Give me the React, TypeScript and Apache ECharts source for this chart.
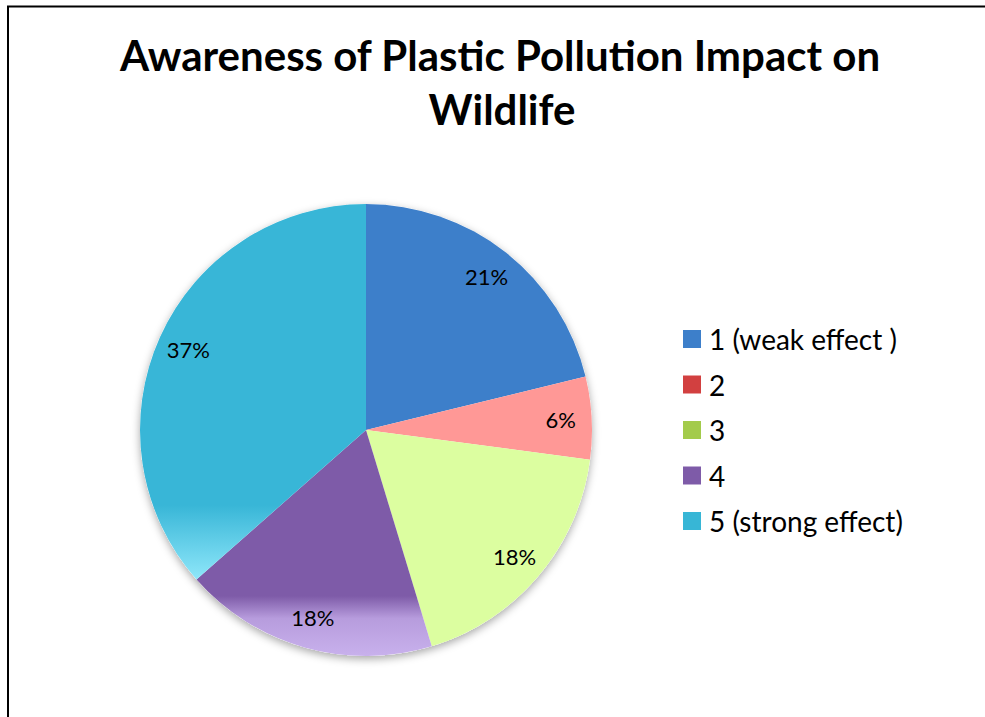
import React, { useEffect, useRef } from "react";
import * as echarts from "echarts";

const titleLines = ["Awareness of Plastic Pollution Impact on", "Wildlife"];
const categories = ["1 (weak effect )", "2", "3", "4", "5 (strong effect)"];
const shares = [21.2, 5.9, 18.2, 18.2, 36.5];
const sliceColors = ["#3D7FCA", "#FF9896", "#DCFEA0", "#7E5BA8", "#38B6D7"];
const legendColors = ["#3D7FCA", "#D24040", "#A3CB4B", "#7E5BA8", "#37B6D6"];

const FONT = "Lato, 'Open Sans', sans-serif";

export default function App() {
  const ref = useRef<HTMLDivElement>(null);

  useEffect(() => {
    if (!ref.current) return;
    const chart = echarts.init(ref.current, undefined, { renderer: "svg" });

    const fills: any[] = sliceColors.slice();
    fills[3] = new echarts.graphic.LinearGradient(
      0, 596, 0, 660,
      [
        { offset: 0, color: "#7E5BA8" },
        { offset: 0.35, color: "#B79CDD" },
        { offset: 1, color: "#CAB3EE" },
      ],
      true
    );
    fills[4] = new echarts.graphic.LinearGradient(
      0, 505, 0, 580,
      [
        { offset: 0, color: "#38B6D7" },
        { offset: 1, color: "#8FE7FA" },
      ],
      true
    );

    const center = [366, 430];
    const R = 226;

    chart.setOption({
      animation: false,
      backgroundColor: "#ffffff",
      legend: {
        orient: "vertical",
        left: 678,
        top: 320,
        itemWidth: 18,
        itemHeight: 18,
        itemGap: 17.5,
        icon: "rect",
        selectedMode: false,
        textStyle: {
          fontFamily: FONT,
          fontSize: 28,
          lineHeight: 28,
          color: "#000",
          padding: [0, 0, 0, 3],
        },
        data: categories.map((name, i) => ({
          name,
          itemStyle: { color: legendColors[i] },
        })),
      },
      graphic: [
        {
          type: "rect",
          shape: { x: 8, y: 6.5, width: 1200, height: 1000 },
          style: { fill: "none", stroke: "#000", lineWidth: 2 },
          silent: true,
        },
        {
          type: "text",
          x: 500,
          y: 55,
          style: {
            text: titleLines[0],
            textAlign: "center",
            textVerticalAlign: "middle",
            fontFamily: FONT,
            fontWeight: "bold",
            fontSize: 42,
            fill: "#000",
          },
        },
        {
          type: "text",
          x: 502,
          y: 109,
          style: {
            text: titleLines[1],
            textAlign: "center",
            textVerticalAlign: "middle",
            fontFamily: FONT,
            fontWeight: "bold",
            fontSize: 42,
            fill: "#000",
          },
        },
      ],
      series: [
        {
          type: "pie",
          name: "shadow",
          z: 1,
          silent: true,
          center,
          radius: [0, R],
          label: { show: false },
          labelLine: { show: false },
          itemStyle: {
            color: "#ffffff",
            borderWidth: 0,
            shadowBlur: 8,
            shadowColor: "rgba(0,0,0,0.35)",
            shadowOffsetY: 3,
          },
          data: [{ name: "bg", value: 1 }],
        },
        {
          type: "pie",
          name: "Awareness",
          z: 2,
          center,
          radius: [0, R],
          startAngle: 90,
          clockwise: true,
          label: { show: false },
          labelLine: { show: false },
          itemStyle: { borderWidth: 0 },
          emphasis: { disabled: true },
          data: categories.map((name, i) => ({
            name,
            value: shares[i],
            itemStyle: { color: fills[i] },
          })),
        },
        {
          type: "pie",
          name: "labels",
          z: 3,
          silent: true,
          center,
          radius: [158, R],
          startAngle: 90,
          clockwise: true,
          percentPrecision: 0,
          itemStyle: { color: "rgba(0,0,0,0)", borderWidth: 0 },
          labelLine: { show: false },
          label: {
            show: true,
            position: "inside",
            formatter: "{d}%",
            fontFamily: FONT,
            fontSize: 22,
            color: "#000",
          },
          data: categories.map((name, i) => ({ name, value: shares[i] })),
        },
      ],
    });

    return () => chart.dispose();
  }, []);

  return (
    <div
      ref={ref}
      style={{
        position: "fixed",
        left: 0,
        top: 0,
        width: 985,
        height: 717,
        background: "#fff",
      }}
    />
  );
}
